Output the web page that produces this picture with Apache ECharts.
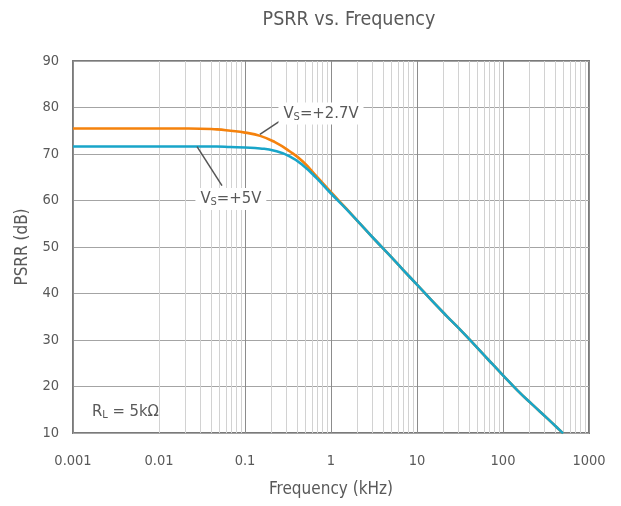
<!DOCTYPE html>
<html>
<head>
<meta charset="utf-8">
<script src="https://cdn.jsdelivr.net/npm/echarts@6/dist/echarts.min.js"></script>
<style>html,body{margin:0;padding:0;background:#fff}#c{width:621px;height:506px}</style>
</head>
<body>
<div id="c"></div>
<script>
// ---- data ----
const freqKHz = [0.001, 0.01, 0.022, 0.047, 0.068, 0.1, 0.15, 0.22, 0.33, 0.47, 0.68, 1, 1.5, 2.2, 3.3, 4.7, 6.8, 10, 15, 22, 33, 47, 68, 100, 150, 220, 330, 470, 500];
const psrr27V = [75.5, 75.5, 75.5, 75.3, 75.0, 74.6, 73.9, 72.6, 70.6, 68.4, 65.2, 61.8, 58.3, 54.9, 51.4, 48.4, 45.2, 41.9, 38.4, 35.2, 31.9, 28.9, 25.7, 22.4, 19.0, 16.1, 13.1, 10.4, 9.9];
const psrr5V  = [71.6, 71.6, 71.6, 71.6, 71.5, 71.4, 71.2, 70.7, 69.5, 67.6, 64.8, 61.5, 58.2, 54.9, 51.4, 48.4, 45.2, 41.9, 38.4, 35.2, 31.9, 28.9, 25.7, 22.4, 19.0, 16.1, 13.1, 10.4, 9.9];
const xDecades = [0.001, 0.01, 0.1, 1, 10, 100, 1000];
const minorMultipliers = [2, 3, 4, 5, 6, 7, 8, 9];

// ---- font pick ----
const probe = document.createElement('canvas').getContext('2d');
function hasFont(f) {
  const s = 'PSRR vs. Frequency 0123456789';
  probe.font = '20px "' + f + '", monospace';
  const a = probe.measureText(s).width;
  probe.font = '20px monospace';
  const b = probe.measureText(s).width;
  return Math.abs(a - b) > 0.5;
}
const FONT = hasFont('DejaVu Sans Condensed') ? '"DejaVu Sans Condensed", "DejaVu Sans", sans-serif' : '"DejaVu Sans", sans-serif';
const TXT = '#595959';

const minorLines = [];
xDecades.slice(0, -1).forEach(d => minorMultipliers.forEach(m => minorLines.push({ xAxis: +(d * m).toPrecision(3) })));

const pair = (xs, ys) => xs.map((x, i) => [x, ys[i]]);

const rich = {
  v: { fontFamily: FONT, fontSize: 16.5, color: TXT, lineHeight: 20 },
  s: { fontFamily: FONT, fontSize: 11, color: TXT, lineHeight: 20, padding: [7, 0, 0, 0] }
};

const chart = echarts.init(document.getElementById('c'), null, { renderer: 'canvas' });
chart.setOption({
  animation: false,
  backgroundColor: '#fff',
  title: {
    text: 'PSRR vs. Frequency',
    left: 344, top: 5, textAlign: 'center',
    textStyle: { fontFamily: FONT, fontSize: 19.5, fontWeight: 'normal', color: TXT }
  },
  grid: { left: 73, right: 32, top: 61, bottom: 73, show: true, borderColor: '#7a7a7a', borderWidth: 2, backgroundColor: 'transparent' },
  xAxis: {
    type: 'log', logBase: 10, min: 0.001, max: 1000,
    name: 'Frequency (kHz)', nameLocation: 'middle', nameGap: 48,
    nameTextStyle: { fontFamily: FONT, fontSize: 17, color: TXT },
    axisLine: { show: false }, axisTick: { show: false },
    axisLabel: { fontFamily: FONT, fontSize: 14.5, color: TXT, margin: 21, formatter: v => String(+(+v).toPrecision(3)) },
    splitLine: { show: true, lineStyle: { color: '#8c8c8c', width: 1 } }
  },
  yAxis: {
    type: 'value', min: 10, max: 90, interval: 10,
    name: 'PSRR (dB)', nameLocation: 'middle', nameGap: 42,
    nameTextStyle: { fontFamily: FONT, fontSize: 17, color: TXT },
    axisLine: { show: false }, axisTick: { show: false },
    axisLabel: { fontFamily: FONT, fontSize: 14.5, color: TXT, margin: 14 },
    splitLine: { show: true, lineStyle: { color: '#a4a4a4', width: 1 } }
  },
  series: [
    {
      type: 'line', name: 'minor', data: pair(freqKHz, psrr27V), symbol: 'none', silent: true, z: 1,
      lineStyle: { opacity: 0 },
      markLine: { z: 1, silent: true, symbol: 'none', label: { show: false }, lineStyle: { color: '#d2d2d2', width: 1, type: 'solid' }, data: minorLines }
    },
    {
      type: 'line', name: 'VS=+2.7V', data: pair(freqKHz, psrr27V), symbol: 'none', smooth: 0.5,
      lineStyle: { color: '#F5820D', width: 2.6 }, z: 3,
      markLine: {
        z: 6, silent: true, symbol: 'none', label: { show: false }, lineStyle: { color: '#555', width: 1.5, type: 'solid' },
        data: [[{ coord: [0.149, 74.2] }, { coord: [0.292, 77.8] }], [{ coord: [0.0277, 71.6] }, { coord: [0.054, 63.2] }]]
      },
      markPoint: {
        z: 7, silent: true, symbol: 'rect', symbolSize: 1, itemStyle: { color: 'rgba(0,0,0,0)' },
        label: { show: true, position: 'inside', backgroundColor: '#fff', padding: [1, 5, 1, 5], rich: rich },
        data: [
          { coord: [0.765, 78.7], label: { formatter: '{v|V}{s|S}{v|=+2.7V}' } },
          { coord: [0.0685, 60.3], label: { formatter: '{v|V}{s|S}{v|=+5V}' } },
          { coord: [0.00407, 14.6], label: { backgroundColor: 'transparent', formatter: '{v|R}{s|L}{v| = 5kΩ}' } }
        ]
      }
    },
    {
      type: 'line', name: 'VS=+5V', data: pair(freqKHz, psrr5V), symbol: 'none', smooth: 0.5,
      lineStyle: { color: '#19A5C9', width: 2.6 }, z: 4
    }
  ]
});
</script>
</body>
</html>
